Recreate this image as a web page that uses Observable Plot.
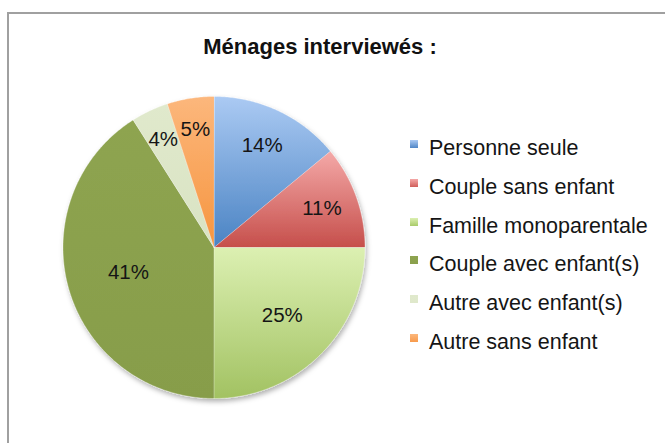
<!DOCTYPE html>
<html>
<head>
<meta charset="utf-8">
<script src="https://cdn.jsdelivr.net/npm/d3@7"></script>
<script src="https://cdn.jsdelivr.net/npm/@observablehq/plot@0.6"></script>
<style>
  html, body { margin: 0; padding: 0; background: #fff; }
  #wrap { position: relative; width: 665px; height: 443px; overflow: hidden; font-family: "Liberation Sans", Arial, sans-serif; }
  #frame { position: absolute; left: 7px; top: 12px; width: 700px; height: 500px; border-left: 2px solid #a0a0a0; border-top: 2px solid #a0a0a0; box-sizing: border-box; }
  #title { position: absolute; left: 0; width: 640px; top: 33px; text-align: center; font-weight: bold; font-size: 22px; line-height: 28px; color: #111; }
  #chart { position: absolute; left: 0; top: 0; }
  #legend { position: absolute; left: 410px; top: 135px; }
  .row { position: relative; height: 38.8px; font-size: 21.5px; color: #151515; white-space: nowrap; }
  .sw { position: absolute; left: 0; top: 5px; width: 8px; height: 8px; }
  .lb { position: absolute; left: 19px; top: 0; line-height: 26px; }
</style>
</head>
<body>
<div id="wrap">
  <div id="frame"></div>
  <div id="title"></div>
  <div id="chart"></div>
  <div id="legend"></div>
</div>
<script>
const title = "Ménages interviewés :";
const categories = ["Personne seule", "Couple sans enfant", "Famille monoparentale", "Couple avec enfant(s)", "Autre avec enfant(s)", "Autre sans enfant"];
const values = [14, 11, 25, 41, 4, 5];
const colorsTop = ["#abcaf3", "#f4a9a8", "#dcf0b2", "#8ea450", "#e0e9cc", "#fcb77c"];
const colorsBottom = ["#4a83c3", "#c64f4b", "#a2c262", "#879d4a", "#d9e3c3", "#f6953f"];
const legendColors = ["#4f86c6", "#d05e5a", "#a9cb6a", "#8aa04c", "#dfe8cb", "#f89a4c"];
const labelRadius = [0.75, 0.76, 0.64, 0.59, 0.79, 0.79];

document.getElementById("title").textContent = title;

const arcs = d3.pie().sort(null)(values);
const features = arcs.map((a, i) => {
  const ring = [[0, 0]];
  const n = Math.max(8, Math.ceil((a.endAngle - a.startAngle) / 0.01));
  for (let k = 0; k <= n; k++) {
    const t = a.startAngle + (a.endAngle - a.startAngle) * k / n;
    ring.push([Math.sin(t), -Math.cos(t)]);
  }
  ring.push([0, 0]);
  return {type: "Feature", properties: {cat: categories[i]}, geometry: {type: "Polygon", coordinates: [ring]}};
});
const collection = {type: "FeatureCollection", features};
const labels = arcs.map((a, i) => {
  const m = (a.startAngle + a.endAngle) / 2;
  return {x: labelRadius[i] * Math.sin(m), y: -labelRadius[i] * Math.cos(m), text: values[i] + "%"};
});

const chart = Plot.plot({
  width: 665,
  height: 443,
  marginLeft: 62,
  marginRight: 300,
  marginTop: 96,
  marginBottom: 45,
  projection: {type: "identity", domain: collection},
  color: {domain: categories, range: categories.map((c, i) => `url(#grad${i})`)},
  style: {background: "transparent", overflow: "visible"},
  marks: [
    Plot.geo(features, {fill: d => d.properties.cat, stroke: "white", strokeWidth: 0.6, strokeOpacity: 0.5}),
    Plot.text(labels, {x: "x", y: "y", text: "text", fontSize: 20.5, fill: "#151515", fontFamily: "Liberation Sans, Arial, sans-serif"})
  ]
});

const svg = d3.select(chart);
const defs = svg.insert("defs", ":first-child");
categories.forEach((c, i) => {
  const g = defs.append("linearGradient").attr("id", `grad${i}`).attr("x1", 0).attr("y1", 0).attr("x2", 0).attr("y2", 1);
  g.append("stop").attr("offset", "0%").attr("stop-color", colorsTop[i]);
  g.append("stop").attr("offset", "100%").attr("stop-color", colorsBottom[i]);
});
const f = defs.append("filter").attr("id", "shadow").attr("x", "-10%").attr("y", "-10%").attr("width", "130%").attr("height", "130%");
f.append("feDropShadow").attr("dx", 1.5).attr("dy", 3).attr("stdDeviation", 2.5).attr("flood-color", "#000").attr("flood-opacity", 0.3);
svg.select('g[aria-label="geo"]').attr("filter", "url(#shadow)");

document.getElementById("chart").appendChild(chart);

const legend = d3.select("#legend");
categories.forEach((c, i) => {
  const row = legend.append("div").attr("class", "row");
  row.append("div").attr("class", "sw").style("background", `linear-gradient(${colorsTop[i]}, ${legendColors[i]})`);
  row.append("div").attr("class", "lb").text(c);
});
</script>
</body>
</html>
